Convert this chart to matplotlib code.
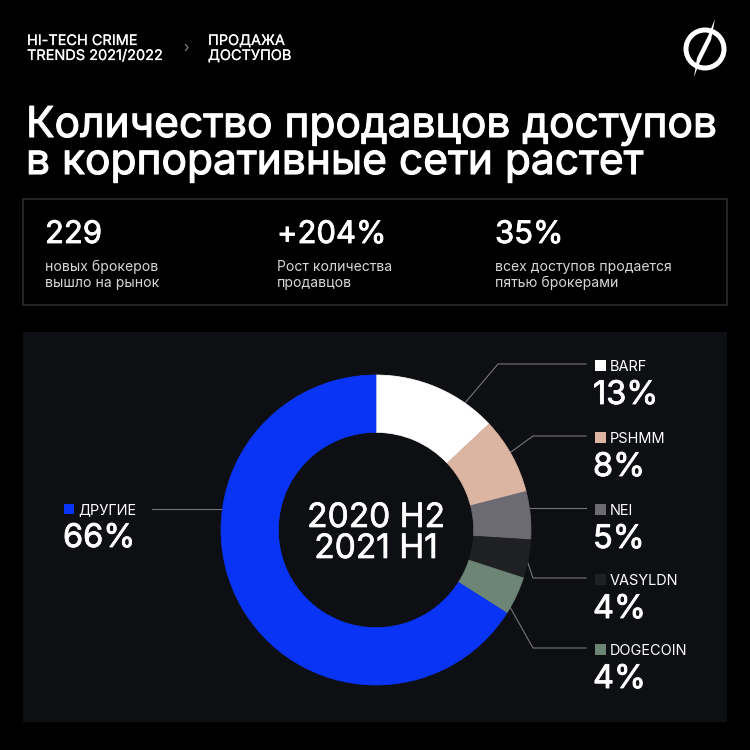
import numpy as np
import matplotlib
matplotlib.use("Agg")
import matplotlib.pyplot as plt
from matplotlib.patches import Rectangle, Circle, Polygon
import matplotlib.patheffects as pe

plt.rcParams['font.family'] = ['Inter', 'DejaVu Sans']

# --- data ---
brokers = ["BARF", "PSHMM", "NEI", "VASYLDN", "DOGECOIN", "ДРУГИЕ"]
shares = [13, 8, 5, 4, 4, 66]
colors = ["#ffffff", "#dcb5a2", "#6c6a72", "#1f2023", "#6d8574", "#0a34f5"]

stat_values = ["229", "+204%", "35%"]
stat_texts = ["новых брокеров\nвышло на рынок",
              "Рост количества\nпродавцов",
              "всех доступов продается\nпятью брокерами"]

title = "Количество продавцов доступов\nв корпоративные сети растет"
center_label = "2020 H2\n2021 H1"

# --- layout (pixels) ---
W = 750
CX, CY, R = 376, 530, 155
PX = 0.72  # points per pixel at dpi 100


def fs(px):
    return px * PX


def heavy(lw):
    # thicken glyphs a little, the original uses a medium weight
    return [pe.withStroke(linewidth=lw, foreground="white")]


fig = plt.figure(figsize=(7.5, 7.5), dpi=100, facecolor="black")
ov = fig.add_axes([0, 0, 1, 1], zorder=0)
ov.set_xlim(0, W)
ov.set_ylim(W, 0)
ov.axis("off")
ov.set_facecolor("black")

# header
for x, lines in [(27, ["HI-TECH CRIME", "TRENDS 2021/2022"]), (208, ["ПРОДАЖА", "ДОСТУПОВ"])]:
    for j, line in enumerate(lines):
        ov.text(x, 45 + 15 * j, line, color="white", fontsize=fs(14.5),
                va="baseline", path_effects=heavy(0.15))
ov.text(183, 52, "›", color="#8a8a8a", fontsize=fs(14), va="baseline")

# logo
ov.add_patch(Circle((705, 49), 19, fill=False, ec="white", lw=5 * PX))
ov.add_patch(Polygon([(715, 19), (711, 40), (699, 64), (694, 77), (697, 58), (708, 36)],
                     closed=True, fc="white", ec="none"))

# title
for i, line in enumerate(title.split("\n")):
    ov.text(26, 137 + 37 * i, line, color="white", fontsize=fs(42.5),
            va="baseline", path_effects=heavy(0.8))

# stats box
ov.add_patch(Rectangle((23, 199), 704, 106, fill=False, ec="#2c2c2c", lw=1.2))
for x, val, txt in zip([45, 277, 495], stat_values, stat_texts):
    ov.text(x, 243, val, color="white", fontsize=fs(31), va="baseline",
            path_effects=heavy(0.6))
    for j, line in enumerate(txt.split("\n")):
        ov.text(x, 271 + 16 * j, line, color="#d6d6d6", fontsize=fs(14), va="baseline")

# chart panel
ov.add_patch(Rectangle((23, 332), 704, 390, fc="#0e0f13", ec="none"))

# donut
pa = fig.add_axes([(CX - R) / W, (W - CY - R) / W, 2 * R / W, 2 * R / W], zorder=1)
pa.pie(shares, colors=colors, startangle=90, counterclock=False, radius=1,
       wedgeprops=dict(width=0.37, linewidth=0.5))
for w, c in zip(pa.patches, colors):
    w.set_edgecolor(c)
pa.set_xlim(-1, 1)
pa.set_ylim(-1, 1)
pa.set_aspect("equal")
pa.axis("off")
for i, line in enumerate(center_label.split("\n")):
    pa.text(0, (CY - (527 + 31 * i)) / R, line, color="white", fontsize=fs(33.5),
            ha="center", va="baseline", path_effects=heavy(0.5))

# labels on the right
line_y = [364, 436, 508, 578, 648]
anchor_deg = [55, 30, 7, -12, -30]
elbow_x = [498, 533, None, 533, 533]
line_col = "#75757b"
for i in range(5):
    a = np.deg2rad(anchor_deg[i])
    sx, sy = CX + R * np.cos(a), CY - R * np.sin(a)
    if elbow_x[i] is None:
        xs, ys = [sx, 586], [line_y[i], line_y[i]]
    else:
        xs, ys = [sx, elbow_x[i], 586], [sy, line_y[i], line_y[i]]
    ov.plot(xs, ys, color=line_col, lw=0.8, zorder=2)
    top = line_y[i] - 4
    ov.add_patch(Rectangle((595, top), 11, 11, fc=colors[i], ec="none", zorder=2))
    ov.text(610, top + 11, brokers[i], color="white", fontsize=fs(14.5),
            va="baseline", zorder=3)
    ov.text(593, top + 44, f"{shares[i]}%", color="white", fontsize=fs(32.5),
            va="baseline", zorder=3, path_effects=heavy(0.6))

# label on the left (others)
a = np.deg2rad(172)
ov.plot([152, CX + R * np.cos(a)], [509, 509], color=line_col, lw=0.8, zorder=2)
ov.add_patch(Rectangle((64, 504), 10, 10, fc=colors[5], ec="none", zorder=2))
ov.text(78, 514, brokers[5], color="white", fontsize=fs(14.5), va="baseline", zorder=3)
ov.text(63, 547, f"{shares[5]}%", color="white", fontsize=fs(32.5), va="baseline",
        zorder=3, path_effects=heavy(0.6))

fig.savefig("out.png", dpi=100, facecolor="black")
